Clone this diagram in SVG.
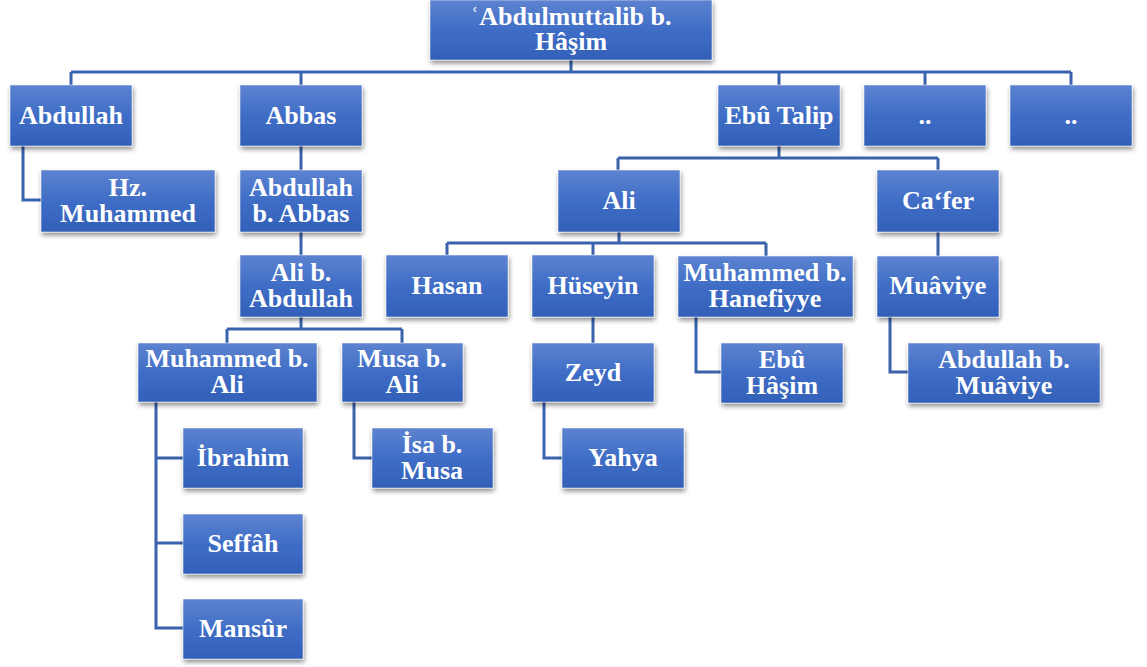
<svg xmlns="http://www.w3.org/2000/svg" width="1147" height="667" viewBox="0 0 1147 667">
<defs>
<linearGradient id="g" x1="0" y1="0" x2="0" y2="1">
<stop offset="0" stop-color="#5d83d0"/>
<stop offset="0.5" stop-color="#3f6dc6"/>
<stop offset="1" stop-color="#3260b8"/>
</linearGradient>
<filter id="sh" x="-10%" y="-10%" width="125%" height="135%">
<feGaussianBlur in="SourceAlpha" stdDeviation="2.5"/>
<feOffset dx="1" dy="3" result="b"/>
<feComponentTransfer><feFuncA type="linear" slope="0.45"/></feComponentTransfer>
<feMerge><feMergeNode/><feMergeNode in="SourceGraphic"/></feMerge>
</filter>
</defs>
<style>
.box{fill:url(#g);stroke:#ffffff;stroke-width:0.5;filter:url(#sh)}
.t{font-family:"Liberation Serif","Times New Roman",serif;font-weight:bold;font-size:26px;fill:#ffffff;text-anchor:middle}
.c{fill:none;stroke:#3b62ad;stroke-width:3}
</style>
<rect width="1147" height="667" fill="#ffffff"/>
<g id="connectors">
<path class="c" d="M571 60V72M71 72H1071M71 72V85M301 72V85M779 72V85M925 72V85M1071 72V85"/>
<path class="c" d="M23 146V200H41"/>
<path class="c" d="M301 146V170M301 232V255M301 317V329M227 329H402M227 329V343M402 329V343"/>
<path class="c" d="M156 402V628H183M156 458H183M156 543H183"/>
<path class="c" d="M354 402V458H372"/>
<path class="c" d="M779 146V158M618 158H938M618 158V170M938 158V170"/>
<path class="c" d="M619 232V243M447 243H766M447 243V255M593 243V255M766 243V256"/>
<path class="c" d="M938 232V256"/>
<path class="c" d="M593 317V343M544 402V458H562"/>
<path class="c" d="M696 317V372H721M890 317V372H908"/>
</g>
<g id="n0"><rect class="box" x="430" y="0" width="282" height="60"/><text class="t" x="571" y="25">ʿAbdulmuttalib b.</text><text class="t" x="571" y="50">Hâşim</text></g>
<g id="n1"><rect class="box" x="10" y="85" width="122" height="61"/><text class="t" x="71" y="124">Abdullah</text></g>
<g id="n2"><rect class="box" x="240" y="85" width="122" height="61"/><text class="t" x="301" y="124">Abbas</text></g>
<g id="n3"><rect class="box" x="718" y="85" width="122" height="61"/><text class="t" x="779" y="124">Ebû Talip</text></g>
<g id="n4"><rect class="box" x="864" y="85" width="122" height="61"/><text class="t" x="925" y="124">..</text></g>
<g id="n5"><rect class="box" x="1010" y="85" width="122" height="61"/><text class="t" x="1071" y="124">..</text></g>
<g id="n6"><rect class="box" x="41" y="170" width="174" height="62"/><text class="t" x="128" y="196">Hz.</text><text class="t" x="128" y="222">Muhammed</text></g>
<g id="n7"><rect class="box" x="240" y="170" width="122" height="62"/><text class="t" x="301" y="196">Abdullah</text><text class="t" x="301" y="222">b. Abbas</text></g>
<g id="n8"><rect class="box" x="558" y="170" width="122" height="62"/><text class="t" x="619" y="209">Ali</text></g>
<g id="n9"><rect class="box" x="877" y="170" width="122" height="62"/><text class="t" x="938" y="209">Ca‘fer</text></g>
<g id="n10"><rect class="box" x="240" y="255" width="122" height="62"/><text class="t" x="301" y="281">Ali b.</text><text class="t" x="301" y="307">Abdullah</text></g>
<g id="n11"><rect class="box" x="386" y="255" width="122" height="62"/><text class="t" x="447" y="294">Hasan</text></g>
<g id="n12"><rect class="box" x="532" y="255" width="122" height="62"/><text class="t" x="593" y="294">Hüseyin</text></g>
<g id="n13"><rect class="box" x="678" y="256" width="175" height="61"/><text class="t" x="765" y="281">Muhammed b.</text><text class="t" x="765" y="307">Hanefiyye</text></g>
<g id="n14"><rect class="box" x="877" y="256" width="122" height="61"/><text class="t" x="938" y="294">Muâviye</text></g>
<g id="n15"><rect class="box" x="138" y="343" width="179" height="59"/><text class="t" x="227" y="367">Muhammed b.</text><text class="t" x="227" y="393">Ali</text></g>
<g id="n16"><rect class="box" x="342" y="343" width="121" height="59"/><text class="t" x="402" y="367">Musa b.</text><text class="t" x="402" y="393">Ali</text></g>
<g id="n17"><rect class="box" x="532" y="343" width="122" height="59"/><text class="t" x="593" y="381">Zeyd</text></g>
<g id="n18"><rect class="box" x="721" y="343" width="122" height="60"/><text class="t" x="782" y="368">Ebû</text><text class="t" x="782" y="394">Hâşim</text></g>
<g id="n19"><rect class="box" x="908" y="343" width="192" height="60"/><text class="t" x="1004" y="368">Abdullah b.</text><text class="t" x="1004" y="394">Muâviye</text></g>
<g id="n20"><rect class="box" x="183" y="428" width="120" height="60"/><text class="t" x="243" y="466">İbrahim</text></g>
<g id="n21"><rect class="box" x="372" y="428" width="121" height="60"/><text class="t" x="432" y="453">İsa b.</text><text class="t" x="432" y="479">Musa</text></g>
<g id="n22"><rect class="box" x="562" y="428" width="122" height="60"/><text class="t" x="623" y="466">Yahya</text></g>
<g id="n23"><rect class="box" x="183" y="514" width="120" height="60"/><text class="t" x="243" y="552">Seffâh</text></g>
<g id="n24"><rect class="box" x="183" y="599" width="120" height="60"/><text class="t" x="243" y="637">Mansûr</text></g>
</svg>
